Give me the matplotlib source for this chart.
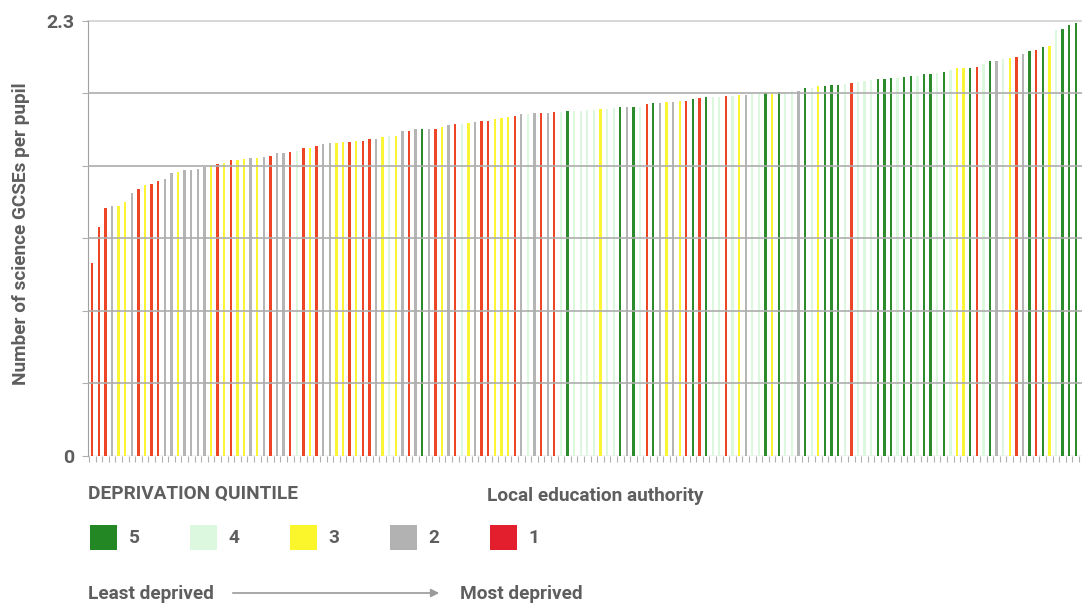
import matplotlib
matplotlib.use('Agg')
import matplotlib.pyplot as plt
from matplotlib import font_manager
from matplotlib.patches import Rectangle, FancyArrowPatch
import numpy as np

# data: one bar per local education authority, sorted by value
quintile = [
    1, 1, 1, 2, 3, 3, 2, 1, 3, 1, 1,
    2, 2, 3, 2, 2, 2, 2, 3, 1, 3, 1, 3, 3,
    2, 3, 2, 1, 2, 2, 1, 4, 1, 3, 1, 2, 2, 3, 3, 1, 3, 1, 1, 2, 3, 4, 3, 2, 1, 2,
    5, 2, 1, 3, 2, 1, 4, 3, 2, 1, 1, 3, 3, 3, 1, 2, 4, 2, 1, 2, 1, 4, 5, 4, 4,
    4, 4, 3, 4, 4, 5, 2, 5, 4, 1, 5, 2, 3, 2, 3, 1, 5, 1, 5, 4, 4, 1, 4, 3, 2,
    4, 4, 5, 3, 5, 4, 4, 2, 5, 4, 3, 5, 5, 5, 4, 1, 4, 4, 4, 5, 5, 5, 4, 5, 5,
    4, 5, 5, 4, 5, 4, 3, 3, 5, 1, 4, 5, 2, 4, 3, 1, 2, 5, 1, 5, 3, 4, 5, 5, 5,
]
gcses = [
    1.02, 1.21, 1.31, 1.32, 1.32, 1.34, 1.39, 1.41, 1.43, 1.435, 1.455,
    1.463, 1.493, 1.498, 1.509, 1.509, 1.517, 1.525, 1.537, 1.542, 1.548, 1.562, 1.563, 1.570,
    1.572, 1.572, 1.578, 1.583, 1.600, 1.600, 1.606, 1.613, 1.625, 1.629, 1.636, 1.648, 1.652,
    1.655, 1.659, 1.660, 1.662, 1.666, 1.674, 1.674, 1.685, 1.689, 1.689, 1.717, 1.718, 1.726,
    1.726, 1.726, 1.727, 1.738, 1.750, 1.754, 1.755, 1.761, 1.766, 1.768, 1.770, 1.779, 1.786,
    1.791, 1.796, 1.805, 1.807, 1.810, 1.810, 1.814, 1.817, 1.817, 1.821, 1.822, 1.823,
    1.828, 1.828, 1.832, 1.832, 1.838, 1.842, 1.842, 1.845, 1.845, 1.858, 1.863, 1.866, 1.870,
    1.870, 1.874, 1.875, 1.886, 1.891, 1.895, 1.895, 1.898, 1.902, 1.903, 1.905, 1.908,
    1.912, 1.912, 1.918, 1.918, 1.925, 1.925, 1.928, 1.930, 1.943, 1.944, 1.953, 1.956, 1.958,
    1.960, 1.964, 1.972, 1.977, 1.983, 1.985, 1.990, 1.992, 1.995, 1.999, 2.002, 2.007,
    2.009, 2.018, 2.018, 2.024, 2.027, 2.039, 2.048, 2.050, 2.052, 2.055, 2.071, 2.087, 2.089,
    2.097, 2.103, 2.106, 2.124, 2.141, 2.145, 2.161, 2.166, 2.251, 2.258, 2.277, 2.286,
]
legend_levels = [5, 4, 3, 2, 1]
y_max = 2.3

# colours
bar_colors = {5: '#2c8c2c', 4: '#dcf8de', 3: '#fbf535', 2: '#b5b5b5', 1: '#ee4526'}
key_colors = {5: '#238823', 4: '#dcf9e0', 3: '#fbf52c', 2: '#b2b2b2', 1: '#e41f2d'}
text_color = '#5e5e5e'

# narrow bold font if there is one
installed = {f.name for f in font_manager.fontManager.ttflist}
family = 'Liberation Sans Narrow' if 'Liberation Sans Narrow' in installed else 'Roboto'
plt.rcParams['font.family'] = [family, 'DejaVu Sans']
plt.rcParams['font.weight'] = 'bold'

W, H = 1082, 603
fig = plt.figure(figsize=(W / 100, H / 100), dpi=100)


def fx(px):
    return px / W


def fy(py):
    return 1 - py / H


ax = fig.add_axes([fx(88.3), fy(455.7), 1 - fx(88.3), fy(20.7) - fy(455.7)])

x = np.arange(len(gcses))
ax.bar(x, gcses, width=0.36, color=[bar_colors[q] for q in quintile], zorder=2)

ax.set_xlim(-0.6, 149.95)
ax.set_ylim(0, y_max)

yt = np.linspace(0, y_max, 7)
ax.set_yticks(yt)
ax.set_yticklabels(['0', '', '', '', '', '', '2.3'], fontsize=14, color=text_color, fontweight='bold')
ax.set_xticks(np.arange(len(gcses) + 1) - 0.5)
ax.set_xticklabels([])
ax.tick_params(axis='both', direction='out', length=4, color='#b0b0b0', width=0.8)
ax.tick_params(axis='y', pad=6)
# grid sits on top of the bars in the original
for v in yt[1:-1]:
    ax.axhline(v, color='#adadad', linewidth=1.2, zorder=3)
ax.axhline(0, color='#bdbdbd', linewidth=1, zorder=1)
ax.axhline(y_max, color='#cfcfcf', linewidth=1.2, clip_on=False, zorder=1)
for s in ['top', 'right', 'bottom']:
    ax.spines[s].set_visible(False)
ax.spines['left'].set_color('#a0a0a0')

fig.text(fx(21), fy(234), 'Number of science GCSEs per pupil', rotation=90,
         ha='center', va='center', fontsize=13.7, color=text_color, fontweight='bold')

# legend drawn by hand
fs = 13.7
fig.text(fx(88), fy(494), 'DEPRIVATION QUINTILE', ha='left', va='center',
         fontsize=fs, color=text_color, fontweight='bold')
fig.text(fx(487), fy(496), 'Local education authority', ha='left', va='center',
         fontsize=fs, color=text_color, fontweight='bold')
for k, q in enumerate(legend_levels):
    left = 90 + 100 * k
    fig.patches.append(Rectangle((fx(left), fy(550)), fx(27), fy(525) - fy(550),
                                 transform=fig.transFigure, facecolor=key_colors[q],
                                 edgecolor='none'))
    fig.text(fx(left + 44), fy(538), str(q), ha='center', va='center',
             fontsize=fs, color=text_color, fontweight='bold')

fig.text(fx(88), fy(594), 'Least deprived', ha='left', va='center',
         fontsize=fs, color=text_color, fontweight='bold')
fig.text(fx(460), fy(594), 'Most deprived', ha='left', va='center',
         fontsize=fs, color=text_color, fontweight='bold')
fig.add_artist(FancyArrowPatch(
    (fx(230), fy(593)), (fx(442), fy(593)), transform=fig.transFigure,
    arrowstyle='-|>', mutation_scale=12, color='#9a9a9a', linewidth=1.2))

fig.savefig('out.png', dpi=100)
